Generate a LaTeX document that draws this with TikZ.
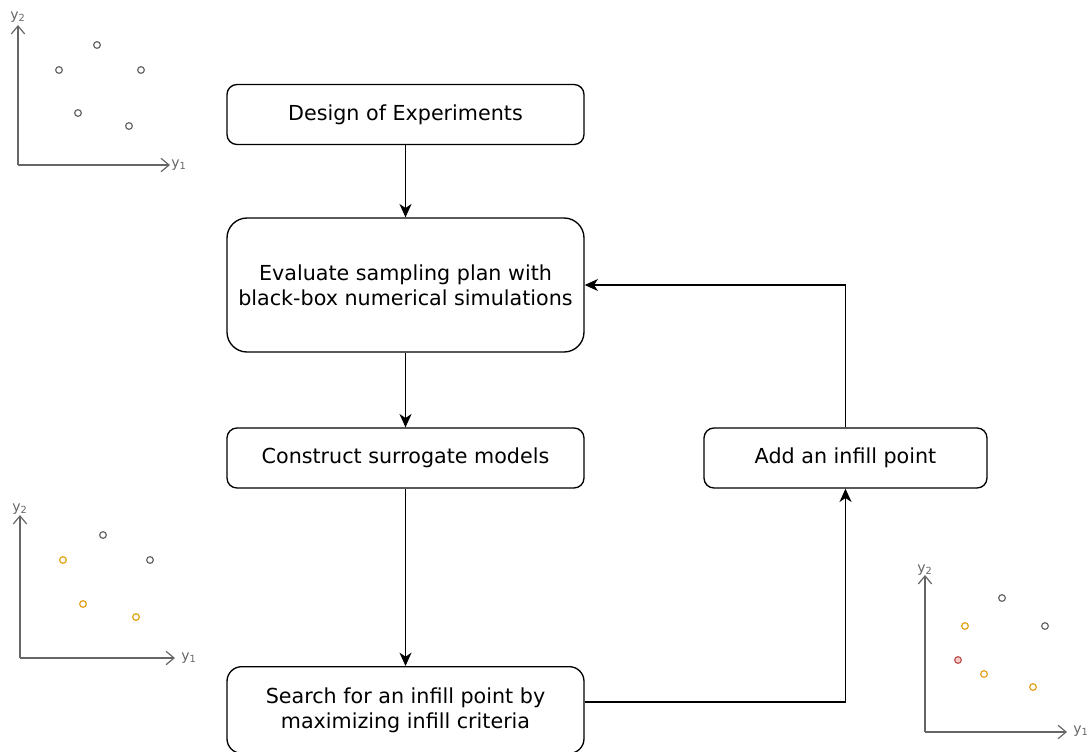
\documentclass[tikz,border=0pt]{standalone}
\usepackage{fontspec}
\setmainfont{DejaVu Sans}
\usetikzlibrary{arrows.meta}

\definecolor{axisgray}{HTML}{666666}
\definecolor{ptorange}{HTML}{E3A21A}
\definecolor{ptred}{HTML}{B85450}
\definecolor{ptpink}{HTML}{F8CECC}

\begin{document}
\begin{tikzpicture}[x=0.75pt, y=-0.75pt,
    stepbox/.style = {draw, line width=1pt, rounded corners=7.5pt, minimum width=267.75pt, minimum height=45pt,
                      inner sep=0pt, align=center, font=\fontsize{15.5}{18.5}\selectfont},
    flow/.style = {line width=1pt, -{Stealth[length=10pt, width=9pt, inset=3pt]}},
    axis/.style = {axisgray, line width=0.9pt, -{Straight Barb[length=6pt, width=10pt]}},
    axlabel/.style = {axisgray, inner sep=0pt, font=\fontsize{10.5}{12}\selectfont},
    pt/.style = {circle, draw=axisgray, line width=0.9pt, inner sep=0pt, minimum size=5pt},
    ptnew/.style = {pt, draw=ptorange},
    ptbest/.style = {pt, draw=ptred, fill=ptpink}]
  \useasboundingbox (0,0) rectangle (1087,751);

  \node[stepbox] (doe) at (405.5,114.5) {Design of Experiments};
  \node[stepbox, rounded corners=15pt, minimum height=100.5pt] (eval) at (405.5,285)
       {Evaluate sampling plan with\\black-box numerical simulations};
  \node[stepbox] (surr) at (405.5,458) {Construct surrogate models};
  \node[stepbox, minimum height=65pt, rounded corners=11pt] (search) at (405.5,710)
       {Search for an infill point by\\maximizing infill criteria};
  \node[stepbox, minimum width=212.25pt] (add) at (845.5,458) {Add an infill point};

  \draw[flow] (doe) -- (eval);
  \draw[flow] (eval) -- (surr);
  \draw[flow] (surr) -- (search);
  \draw[flow] (search.east |- 0,702) -| (add.south);
  \draw[flow] (add.north) |- (eval.east |- 0,285);

  \coordinate (o1) at (18,165);
  \draw[axis] (o1) -- (18,25);
  \draw[axis] (o1) -- (170,165);
  \node[axlabel, anchor=west] (a1x) at (171,165) {y\textsubscript{1}};
  \node[axlabel] (a1y) at (18,17) {y\textsubscript{2}};
  \node[pt] (p11) at (97,45) {};
  \node[pt] (p12) at (59,70) {};
  \node[pt] (p13) at (141,70) {};
  \node[pt] (p14) at (78,113) {};
  \node[pt] (p15) at (129,126) {};

  \coordinate (o2) at (20,658);
  \draw[axis] (o2) -- (20,515);
  \draw[axis] (o2) -- (175,658);
  \node[axlabel, anchor=west] (a2x) at (181,658) {y\textsubscript{1}};
  \node[axlabel] (a2y) at (20,509) {y\textsubscript{2}};
  \node[pt] (p21) at (103,535) {};
  \node[pt] (p22) at (150,560) {};
  \node[ptnew] (p23) at (63,560) {};
  \node[ptnew] (p24) at (83,604) {};
  \node[ptnew] (p25) at (136,617) {};

  \coordinate (o3) at (925,732);
  \draw[axis] (o3) -- (925,575);
  \draw[axis] (o3) -- (1067,732);
  \node[axlabel, anchor=west] (a3x) at (1073,731) {y\textsubscript{1}};
  \node[axlabel] (a3y) at (925,570) {y\textsubscript{2}};
  \node[pt] (p31) at (1002,598) {};
  \node[pt] (p32) at (1045,626) {};
  \node[ptnew] (p33) at (965,626) {};
  \node[ptnew] (p34) at (984,674) {};
  \node[ptnew] (p35) at (1033,687) {};
  \node[ptbest] (p36) at (958,660) {};
\end{tikzpicture}
\end{document}
